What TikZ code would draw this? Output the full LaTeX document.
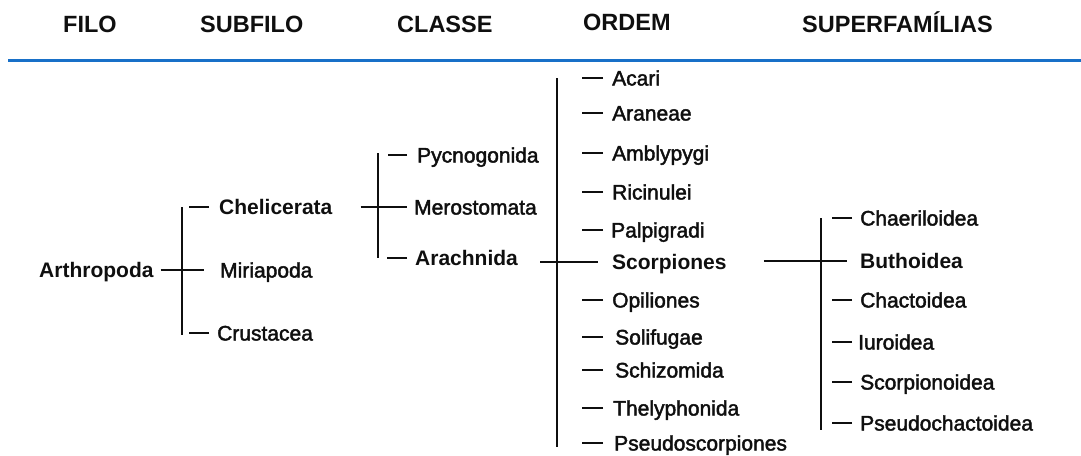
\documentclass[tikz,border=0pt]{standalone}
\usepackage{fontspec}
\setmainfont{Liberation Sans}
\newfontfamily\medfont[FakeBold=2]{Liberation Sans}
\definecolor{rulebl}{RGB}{24,112,200}
\definecolor{ink}{RGB}{15,15,15}
\begin{document}
\begin{tikzpicture}[x=1pt,y=-1pt,
  hdr/.style={anchor=west,inner sep=0,text height=16.8pt,text depth=0pt,text=ink,font=\fontsize{23.5}{28}\selectfont\bfseries},
  itm/.style={anchor=west,inner sep=0,text height=15pt,text depth=0pt,text=ink,font=\medfont\fontsize{21}{25}\selectfont},
  bitm/.style={itm,font=\fontsize{21}{25}\selectfont\bfseries},
  ln/.style={line width=1.9pt,draw=ink}]
\useasboundingbox (0,0) rectangle (1081,455);
% headers
\node[hdr] (hfilo) at (63,24) {FILO};
\node[hdr] (hsub) at (200,24) {SUBFILO};
\node[hdr] (hcla) at (397,24) {CLASSE};
\node[hdr] (hord) at (583,22) {ORDEM};
\node[hdr] (hsup) at (802,24) {SUPERFAMÍLIAS};
\coordinate (rl) at (8,60);
\coordinate (rr) at (1081,60);
\draw[line width=3pt,rulebl] (rl) -- (rr);
% level 1
\node[bitm] (arthro) at (39,270) {Arthropoda};
% subfilo
\node[bitm] (chel) at (219,207) {Chelicerata};
\node[itm] (miria) at (220,270) {Miriapoda};
\node[itm] (crust) at (217,333) {Crustacea};
% classe
\node[itm] (pycno) at (417,155) {Pycnogonida};
\node[itm] (mero) at (414,207) {Merostomata};
\node[bitm] (arach) at (415,258) {Arachnida};
% ordem
\node[itm] (acari) at (612,78) {Acari};
\node[itm] (aran) at (612,113) {Araneae};
\node[itm] (ambl) at (612,153) {Amblypygi};
\node[itm] (rici) at (612,192) {Ricinulei};
\node[itm] (palp) at (611,230) {Palpigradi};
\node[bitm] (scorp) at (612,262) {Scorpiones};
\node[itm] (opil) at (612,300) {Opiliones};
\node[itm] (soli) at (615,337) {Solifugae};
\node[itm] (schi) at (615,370) {Schizomida};
\node[itm] (thel) at (613,408) {Thelyphonida};
\node[itm] (pseu) at (614,443) {Pseudoscorpiones};
% superfamilias
\node[itm] (chae) at (860,218) {Chaeriloidea};
\node[bitm] (buth) at (860,261) {Buthoidea};
\node[itm] (chac) at (860,300) {Chactoidea};
\node[itm] (iuro) at (858,342) {Iuroidea};
\node[itm] (scpo) at (860,382) {Scorpionoidea};
\node[itm] (pcha) at (860,423) {Pseudochactoidea};
% spines and tick ends
\coordinate (sp1) at (182,0);
\coordinate (sp2) at (378,0);
\coordinate (sp3) at (557,0);
\coordinate (sp4) at (821,0);
\coordinate (t2) at (407,0);
\coordinate (t3) at (603,0);
\coordinate (t4) at (852,0);
% filo -> subfilo
\draw[ln] ([xshift=7pt]arthro.east) -- ([xshift=-16pt]miria.west);
\draw[ln] (sp1 |- chel.west) -- ([yshift=-2pt]sp1 |- crust.west);
\draw[ln] ([xshift=-10pt]chel.west) -- ++(-20,0);
\draw[ln] ([xshift=-8pt]crust.west) -- ++(-20,0);
% subfilo -> classe
\draw[ln] ([xshift=28pt]chel.east) -- ([xshift=-7pt]mero.west);
\draw[ln] ([yshift=2pt]sp2 |- pycno.west) -- (sp2 |- arach.west);
\draw[ln] (t2 |- pycno.west) -- ++(-19,0);
\draw[ln] (t2 |- arach.west) -- ++(-20,0);
% classe -> ordem
\draw[ln] ([xshift=-72pt]scorp.west) -- ([xshift=-14pt]scorp.west);
\draw[ln] (sp3 |- acari.west) -- ([yshift=-4pt]sp3 |- pseu.west);
\foreach \n in {acari,aran,ambl,rici,palp,opil,soli,schi,thel,pseu}
  \draw[ln] (t3 |- \n.west) -- ++(-21,0);
% ordem -> superfamilias
\draw[ln] ([xshift=37pt]scorp.east |- buth.west) -- ([xshift=-13pt]buth.west);
\draw[ln] (sp4 |- chae.west) -- ([yshift=-7pt]sp4 |- pcha.west);
\foreach \n in {chae,chac,iuro,scpo,pcha}
  \draw[ln] (t4 |- \n.west) -- ++(-20,0);
\end{tikzpicture}
\end{document}
